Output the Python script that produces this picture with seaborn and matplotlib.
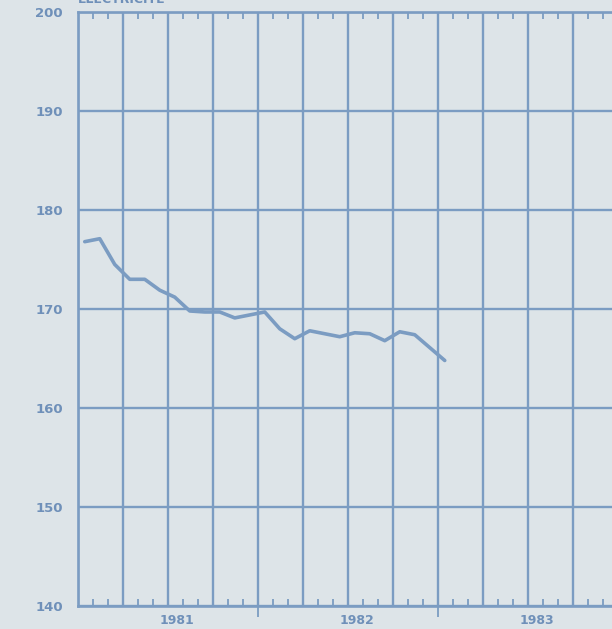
import matplotlib
matplotlib.use("Agg")
import matplotlib.pyplot as plt
from matplotlib.ticker import MultipleLocator
import seaborn as sns
import pandas as pd

# monthly series, Jan 1981 .. Jan 1983 (x = months since Jan 1981, mid-month)
months = [m + 0.45 for m in range(25)]
values = [176.8, 177.1, 174.5, 173.0, 173.0, 171.9, 171.2, 169.8, 169.7,
          169.7, 169.1, 169.4, 169.7, 168.0, 167.0, 167.8, 167.5, 167.2,
          167.6, 167.5, 166.8, 167.7, 167.4, 166.1, 164.8]
years = ["1981", "1982", "1983"]
year_pos = [6.6, 18.6, 30.6]
yticks = [140, 150, 160, 170, 180, 190, 200]

df = pd.DataFrame({"month": months, "value": values})

BG = "#dde4e8"
BLUE = "#7b9cc2"
TXT = "#6f90b9"

sns.set_theme(style="white")
plt.rcParams["font.family"] = ["DejaVu Sans"]

fig = plt.figure(figsize=(6.12, 6.29), dpi=100, facecolor=BG)
ax = fig.add_axes([78 / 612, 1 - 606 / 629, 1 - 78 / 612, (606 - 12) / 629])
ax.set_facecolor(BG)

sns.lineplot(data=df, x="month", y="value", ax=ax, color=BLUE, linewidth=2.6)

ax.set_xlim(0, 35.6)
ax.set_ylim(140, 200)
ax.set_xlabel("")
ax.set_ylabel("")

# quarter grid, monthly minor ticks
ax.xaxis.set_major_locator(MultipleLocator(3))
ax.xaxis.set_minor_locator(MultipleLocator(1))
ax.set_xticklabels([])
ax.set_yticks(yticks)
ax.grid(True, which="major", color=BLUE, linewidth=1.7)
ax.tick_params(axis="x", which="both", direction="in", top=True, bottom=True,
               color=BLUE, width=1.3)
ax.tick_params(axis="x", which="major", length=0)
ax.tick_params(axis="x", which="minor", length=5)
ax.tick_params(axis="y", length=0, pad=11, labelsize=9.5, labelcolor=TXT)
for lab in ax.get_yticklabels():
    lab.set_fontweight("bold")

for side in ["left", "top", "bottom"]:
    ax.spines[side].set_color(BLUE)
    ax.spines[side].set_linewidth(1.9)
ax.spines["right"].set_visible(False)

# year separators and year labels under the axis
sec = ax.secondary_xaxis("bottom")
sec.set_xticks([12, 24])
sec.set_xticks(year_pos, labels=years, minor=True)
sec.tick_params(which="major", direction="out", length=8, color=BLUE,
                width=1.3, labelbottom=False)
sec.tick_params(which="minor", length=0, pad=6, labelsize=9, labelcolor=TXT)
for lab in sec.get_xticklabels(minor=True):
    lab.set_fontweight("bold")
sec.spines["bottom"].set_visible(False)

# unit label, clipped at the top of the page as in the source scan
fig.text(78 / 612, 1 - 3 / 629, "ELECTRICITE", color=TXT, fontsize=9,
         fontweight="bold", va="baseline", ha="left")

fig.savefig("out.png", dpi=100, facecolor=BG)
